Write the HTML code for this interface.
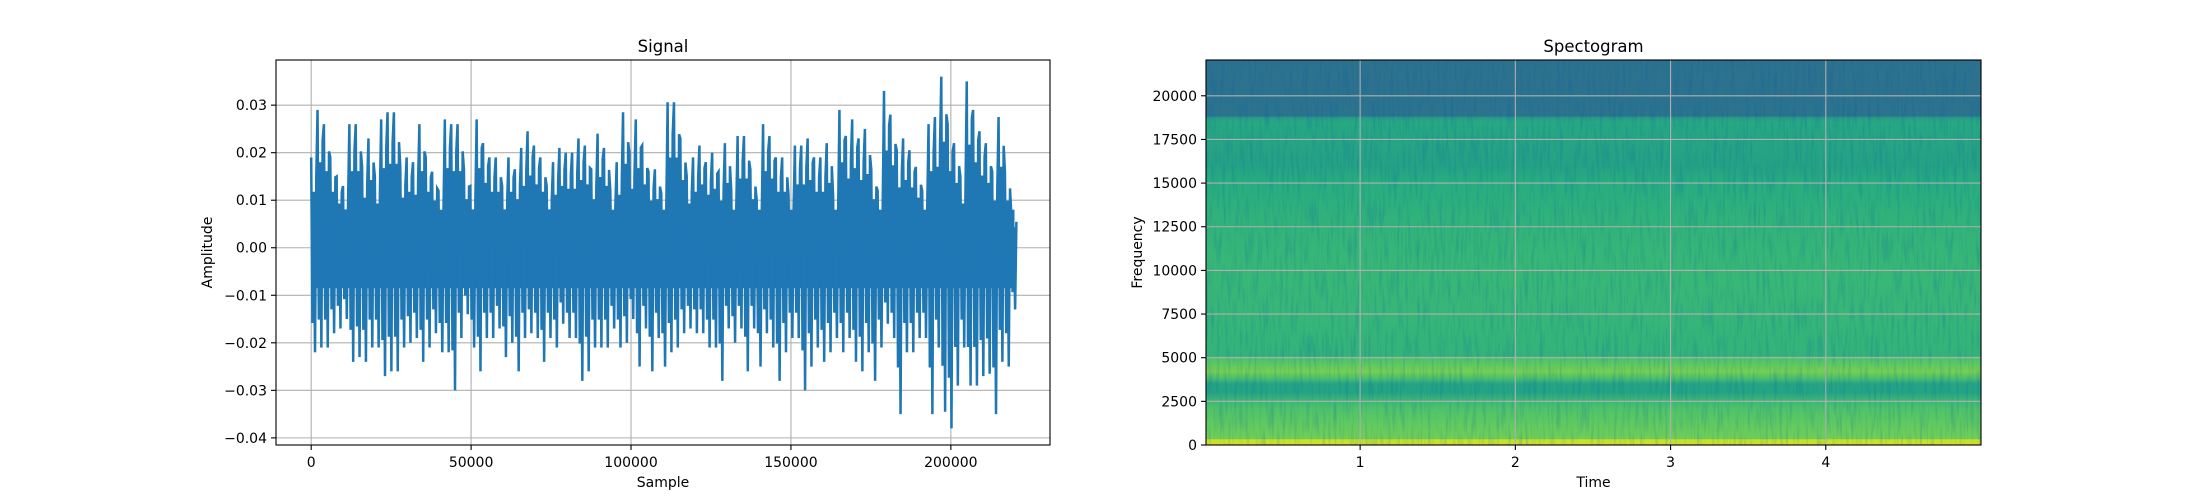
<!DOCTYPE html>
<html><head><meta charset="utf-8"><style>
html,body{margin:0;padding:0;background:#fff;}
svg{display:block;font-family:"DejaVu Sans","Liberation Sans",sans-serif;}
</style></head><body>
<svg id="fig" width="2200" height="500" viewBox="0 0 2200 500" xmlns="http://www.w3.org/2000/svg">
<defs>
<filter id="noise" x="0" y="0" width="100%" height="100%">
<feTurbulence type="fractalNoise" baseFrequency="0.35 0.03" numOctaves="2" seed="3"/>
<feColorMatrix type="matrix" values="0 0 0 0 0  0 0 0 0 0.1  0 0 0 0 0.4  0 0 0 1.2 -0.55"/>
</filter>
</defs>
<g id="signal"></g>
<g id="spec"></g>
</svg>
<script>
// ---- Signal data: per-chunk (2000 samples) peak max / min, in units of 0.001
const chunkSize = 1990;
const sigMax = [19,29,26,19,15,13,26,26,17,23,15,27,28.5,28.5,17,19,18,26,19,16,12,27,26,26,16.5,13,27,22,19,19,13,19,16.5,21,24.5,21.5,19,13,18,21,20,20,23,21.5,16.5,24,21,12,18,28.5,20,27,21.5,16,16.5,11.5,30.6,30.6,23,15,19,21.5,18,20,16,22,12,23.5,23.5,16.5,10,26,23.5,19,19,11,21.5,21.5,23,19,19,22,11,29,23.5,27,23,25,16.5,12,33,28,20.5,23,20.5,17,12,26,27.5,36,26,22,15,35,29,24.5,22,16,27.5,16,7];
const sigMin = [-22,-21,-21,-18,-17,-15,-24,-23,-24,-21,-21,-27,-26,-26,-21,-20,-19,-24,-21,-18,-22,-22,-30,-19,-14,-21,-26,-19,-19,-17,-23,-20,-26,-19,-18,-19,-24,-19,-21,-16,-19,-19,-28,-26,-21,-21,-21,-17,-21,-20,-15,-25,-17,-26,-19,-25,-22,-21,-18,-17,-18,-18,-21,-21,-28,-17,-20,-17,-26,-17,-25,-18,-21,-28,-22,-19,-19,-30,-25,-21,-24,-22,-19,-22,-19,-24,-26,-22,-28,-21,-16,-19,-35,-22,-22,-19,-19,-35,-21,-34.5,-38,-29,-21,-29,-29,-27,-26.5,-35,-24,-25,-13];
const coreBand = [8, -8.5];
const sigXTicks = [0,50000,100000,150000,200000];
const sigYTicks = [0.03,0.02,0.01,0,-0.01,-0.02,-0.03,-0.04];

// ---- Spectrogram data: frequency profile (Hz) -> normalised colour level
const specFreqs  = [0,300,350,1000,2000,2500,3000,3500,3800,4200,4700,5000,5100,7500,10000,12500,15000,16000,17500,18500,18750,18850,22050];
const specLevels = [0.92,0.92,0.78,0.76,0.72,0.68,0.58,0.58,0.7,0.79,0.74,0.71,0.65,0.66,0.665,0.65,0.62,0.57,0.585,0.6,0.55,0.38,0.37];
const specXTicks = [1,2,3,4];
const specYTicks = [0,2500,5000,7500,10000,12500,15000,17500,20000];

const NS='http://www.w3.org/2000/svg';
function mk(parent,tag,attrs,text){const e=document.createElementNS(NS,tag);for(const k in attrs)e.setAttribute(k,attrs[k]);if(text!==undefined)e.textContent=text;parent.appendChild(e);return e;}
function fmtY(v){const s=Math.abs(v).toFixed(2);return (v<0?'\u2212':'')+s;}

// ===== Signal chart
(function(){
 const g=document.getElementById('signal');
 const L=276,R=1050,T=60,B=445;
 const xmin=-11000,xmax=231000,ymin=-0.0415,ymax=0.0395;
 const X=v=>L+(v-xmin)/(xmax-xmin)*(R-L);
 const Y=v=>B-(v-ymin)/(ymax-ymin)*(B-T);
 const clip=mk(g,'clipPath',{id:'sigclip'});mk(clip,'rect',{x:L,y:T,width:R-L,height:B-T});
 sigXTicks.forEach(t=>{const l=mk(g,'line',{x1:X(t),x2:X(t),y1:T,y2:B,stroke:'#b0b0b0','stroke-width':1.1});
 
 });
 sigYTicks.forEach(t=>{const l=mk(g,'line',{x1:L,x2:R,y1:Y(t),y2:Y(t),stroke:'#b0b0b0','stroke-width':1.1});
 
 });
 const wg=mk(g,'g',{'clip-path':'url(#sigclip)'});
 
 
 const n=sigMax.length;
 const x0=X(0);
 const band=mk(wg,'rect',{x:x0,y:Y(coreBand[0]/1000),width:X((n-0.5)*chunkSize)-x0,height:Y(coreBand[1]/1000)-Y(coreBand[0]/1000),fill:'#1f77b4'});
 
 
 let pts=[];
 const fr=[[0,1,0],[0.2,0,0.72],[0.4,0.62,0],[0.6,0,1],[0.8,0.78,0]];
 for(let i=0;i<n;i++){
   const s=i*chunkSize;
   fr.forEach(f=>{const v=f[1]?sigMax[i]*f[1]:sigMin[i]*f[2];
     pts.push(X(s+chunkSize*f[0]).toFixed(2)+','+Y(v/1000).toFixed(2));});
 }
 const pl=mk(wg,'polyline',{points:pts.join(' '),fill:'none',stroke:'#1f77b4','stroke-width':2.5,'stroke-linejoin':'miter'});
 
 
 const sp=mk(g,'rect',{x:L,y:T,width:R-L,height:B-T,fill:'none',stroke:'#000','stroke-width':1.1});
 
 
 sigXTicks.forEach(t=>{mk(g,'line',{x1:X(t),x2:X(t),y1:B,y2:B+5,stroke:'#000','stroke-width':1.1});
  const tx=mk(g,'text',{x:X(t),y:B+22,'font-size':14,'text-anchor':'middle',fill:'#000'},String(t));
  
  });
 sigYTicks.forEach(t=>{mk(g,'line',{x1:L-5,x2:L,y1:Y(t),y2:Y(t),stroke:'#000','stroke-width':1.1});
  const tx=mk(g,'text',{x:L-9,y:Y(t)+5,'font-size':14,'text-anchor':'end',fill:'#000'},fmtY(t));
  
  });
 const ti=mk(g,'text',{x:(L+R)/2,y:T-8,'font-size':16.5,'text-anchor':'middle',fill:'#000'},'Signal');
 
 
 const xl=mk(g,'text',{x:(L+R)/2,y:B+42,'font-size':14,'text-anchor':'middle',fill:'#000'},'Sample');
 
 
 const yl=mk(g,'text',{x:0,y:0,'font-size':14,'text-anchor':'middle',fill:'#000',transform:'translate(212,'+((T+B)/2)+') rotate(-90)'},'Amplitude');
 
 
})();

// ===== Spectrogram
(function(){
 const g=document.getElementById('spec');
 const L=1206,R=1981,T=60,B=445;
 const tmin=0.007,tmax=5.0,fmin=0,fmax=22050;
 const X=v=>L+(v-tmin)/(tmax-tmin)*(R-L);
 const Y=v=>B-(v-fmin)/(fmax-fmin)*(B-T);
 const vir=[[0,[68,1,84]],[0.125,[71,45,123]],[0.25,[59,82,139]],[0.375,[44,114,142]],[0.5,[33,145,140]],[0.625,[40,174,128]],[0.75,[94,201,98]],[0.875,[173,220,48]],[1,[253,231,37]]];
 function cmap(t){for(let i=1;i<vir.length;i++){if(t<=vir[i][0]){const a=vir[i-1],b=vir[i];const f=(t-a[0])/(b[0]-a[0]);return 'rgb('+a[1].map((c,k)=>Math.round(c+(b[1][k]-c)*f)).join(',')+')';}}return 'rgb(253,231,37)';}
 const defs=mk(g,'defs',{});
 const grad=mk(defs,'linearGradient',{id:'specgrad',x1:0,y1:B,x2:0,y2:T,gradientUnits:'userSpaceOnUse'});
 specFreqs.forEach((f,i)=>{mk(grad,'stop',{offset:((B-Y(f))/(B-T)).toFixed(4),'stop-color':cmap(specLevels[i])});});
 const img=mk(g,'rect',{x:L,y:T,width:R-L,height:B-T,fill:'url(#specgrad)'});
 
 
 const tex=mk(g,'rect',{x:L,y:T,width:R-L,height:B-T,filter:'url(#noise)',opacity:0.45});
 
 
 specXTicks.forEach(t=>{const l=mk(g,'line',{x1:X(t),x2:X(t),y1:T,y2:B,stroke:'#b0b0b0','stroke-width':1.1});
 
 });
 specYTicks.forEach(t=>{const l=mk(g,'line',{x1:L,x2:R,y1:Y(t),y2:Y(t),stroke:'#b0b0b0','stroke-width':1.1});
 
 });
 const sp=mk(g,'rect',{x:L,y:T,width:R-L,height:B-T,fill:'none',stroke:'#000','stroke-width':1.1});
 
 
 specXTicks.forEach(t=>{mk(g,'line',{x1:X(t),x2:X(t),y1:B,y2:B+5,stroke:'#000','stroke-width':1.1});
  const tx=mk(g,'text',{x:X(t),y:B+22,'font-size':14,'text-anchor':'middle',fill:'#000'},String(t));
  
  });
 specYTicks.forEach(t=>{mk(g,'line',{x1:L-5,x2:L,y1:Y(t),y2:Y(t),stroke:'#000','stroke-width':1.1});
  const tx=mk(g,'text',{x:L-9,y:Y(t)+5,'font-size':14,'text-anchor':'end',fill:'#000'},String(t));
  
  });
 const ti=mk(g,'text',{x:(L+R)/2,y:T-8,'font-size':16.5,'text-anchor':'middle',fill:'#000'},'Spectogram');
 
 
 const xl=mk(g,'text',{x:(L+R)/2,y:B+42,'font-size':14,'text-anchor':'middle',fill:'#000'},'Time');
 
 
 const yl=mk(g,'text',{x:0,y:0,'font-size':14,'text-anchor':'middle',fill:'#000',transform:'translate(1142,'+((T+B)/2)+') rotate(-90)'},'Frequency');
 
 
})();
</script>
</body></html>
